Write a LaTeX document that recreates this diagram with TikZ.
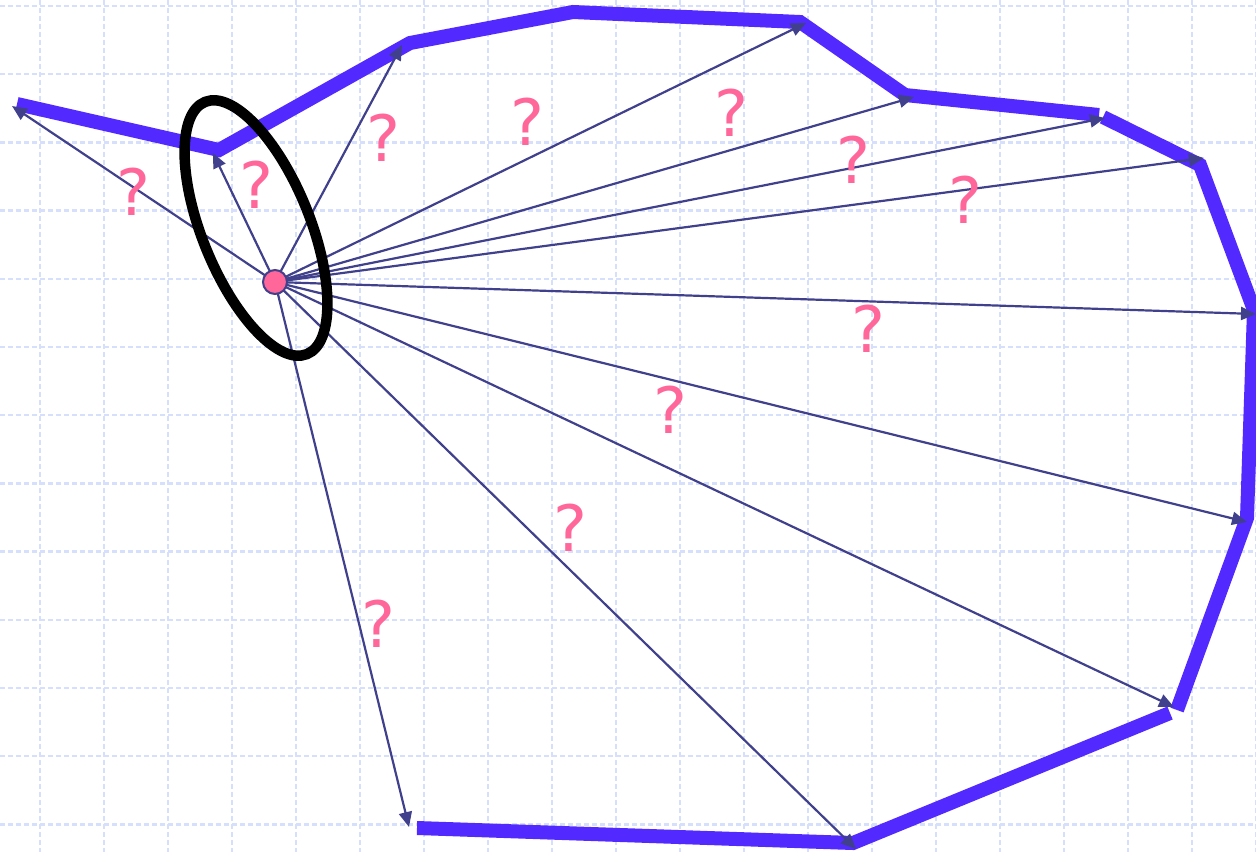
\documentclass[tikz,border=0pt]{standalone}
\usepackage{fontspec}
\newfontfamily\qfont{DejaVu Sans}
\usetikzlibrary{arrows.meta}
\definecolor{gridc}{RGB}{214,223,252}
\definecolor{polyc}{RGB}{82,42,255}
\definecolor{arrc}{RGB}{64,64,140}
\definecolor{pinkc}{RGB}{255,102,153}
\begin{document}
\begin{tikzpicture}[x=1pt,y=-1pt,
  gridline/.style={draw=gridc, line width=2.4pt, dash pattern=on 5pt off 3pt},
  poly/.style={draw=polyc, line width=14pt, line join=miter, line cap=butt},
  ray/.style={draw=arrc, line width=2.2pt, -{Triangle[length=15pt,width=13pt]}},
  qm/.style={text=pinkc, font=\qfont\fontsize{64}{64}\selectfont, inner sep=0pt},
  dot/.style={circle, fill=pinkc, draw=arrc, line width=2pt, minimum size=24pt, inner sep=0pt},
  ring/.style={draw=black, line width=10.5pt}
  ]
\useasboundingbox (0,0) rectangle (1256,852);
% grid
\foreach \i in {0,...,19} \draw[gridline] ({40+64*\i},0) -- ({40+64*\i},852);
\foreach \j in {0,...,12} \draw[gridline] (0,{6+68.2*\j}) -- (1256,{6+68.2*\j});
% polyline vertices
\coordinate (p1) at (17,104);
\coordinate (p2) at (219,150);
\coordinate (p3) at (410,43);
\coordinate (p4) at (573,12);
\coordinate (p5) at (800,22);
\coordinate (p6) at (905,95);
\coordinate (p7) at (1099,115);
\coordinate (q1) at (1103,117);
\coordinate (q2) at (1200,165);
\coordinate (q3) at (1254,310);
\coordinate (q4) at (1247,518);
\coordinate (q5) at (1177,710);
\coordinate (r1) at (417,828);
\coordinate (r2) at (853,843);
\coordinate (r3) at (1170,713);
\draw[poly] (p1) -- (p2) -- (p3) -- (p4) -- (p5) -- (p6) -- (p7);
\draw[poly] (q1) -- (q2) -- (q3) -- (q4) -- (q5);
\draw[poly] (r1) -- (r2) -- (r3);
% arrow targets
\coordinate (t1) at (12,106);
\coordinate (t2) at (213,153);
\coordinate (t3) at (402,45);
\coordinate (t4) at (806,23);
\coordinate (t5) at (914,97);
\coordinate (t6) at (1105,118);
\coordinate (t7) at (1204,158);
\coordinate (t8) at (1256,314);
\coordinate (t9) at (1247,522);
\coordinate (t10) at (1174,707);
\coordinate (t11) at (856,849);
\coordinate (t12) at (409,827);
\coordinate (c) at (275,282);
\foreach \k in {1,...,12} \draw[ray] (c) -- (t\k);
% ellipse
\draw[ring, rotate around={22:(256,228)}] (256,228) ellipse [x radius=54pt, y radius=136pt];
% centre point
\node[dot] (cp) at (c) {};
% question marks
\node[qm] (m1) at (133,192) {?};
\node[qm] (m2) at (256,185) {?};
\node[qm] (m3) at (383,138) {?};
\node[qm] (m4) at (527,122) {?};
\node[qm] (m5) at (731,113) {?};
\node[qm] (m6) at (853,160) {?};
\node[qm] (m7) at (965,200) {?};
\node[qm] (m8) at (868,329) {?};
\node[qm] (m9) at (670,410) {?};
\node[qm] (m10) at (570,528) {?};
\node[qm] (m11) at (378,624) {?};
\end{tikzpicture}
\end{document}
